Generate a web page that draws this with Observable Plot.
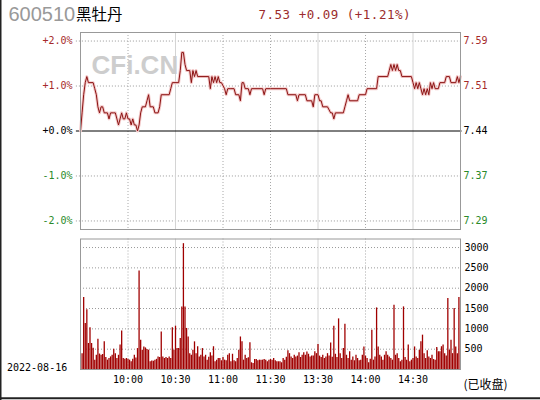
<!DOCTYPE html>
<html>
<head>
<meta charset="utf-8">
<script src="https://cdn.jsdelivr.net/npm/d3@7"></script>
<script src="https://cdn.jsdelivr.net/npm/@observablehq/plot@0.6"></script>
<style>
  html, body { margin: 0; padding: 0; background: #fff; }
  #wrap { position: relative; width: 540px; height: 400px; overflow: hidden; background: #fff; }
  #wrap > svg { position: absolute; left: 0; }
</style>
</head>
<body>
<div id="wrap"></div>
<script>
// ---------- data ----------
const stockCode = "600510";
const stockName = "黑牡丹";
const quoteText = "7.53 +0.09 (+1.21%)";
const dateText = "2022-08-16";
const statusText = "(已收盘)";
const watermarkText = "CFi.CN";
const basePrice = 7.44;

// minute index from 9:30 (0) to 15:00 (240); 11:30 = 120, 13:00 continues at 120
const minutes = [0,1,2,3,4,5,8,9,10,11,12,13,14,15,17,18,19,21,22,23,24,25,26,27,28,29,30,31,32,33,34,35,36,37,38,39,41,42,43,44,46,47,49,50,51,56,57,58,62,63,64,65,66,67,69,70,71,72,73,74,81,82,83,84,85,86,87,88,89,91,92,93,95,97,98,100,101,102,103,104,106,107,108,115,116,117,120,
  130,131,136,137,138,142,143,146,147,148,150,151,152,153,156,158,159,160,161,166,167,168,169,170,175,176,180,181,187,188,194,195,196,197,198,199,200,201,202,203,209,210,211,212,213,214,215,216,217,218,219,220,221,222,223,224,226,227,230,231,233,234,237,238,239,240];
const prices = [7.44,7.47,7.50,7.52,7.53,7.52,7.52,7.51,7.50,7.48,7.47,7.48,7.48,7.47,7.47,7.46,7.47,7.47,7.47,7.46,7.45,7.46,7.47,7.46,7.46,7.47,7.46,7.46,7.45,7.46,7.45,7.45,7.44,7.45,7.47,7.48,7.48,7.49,7.50,7.48,7.48,7.47,7.47,7.48,7.50,7.50,7.51,7.52,7.52,7.54,7.57,7.57,7.55,7.54,7.54,7.52,7.54,7.53,7.54,7.53,7.53,7.51,7.53,7.52,7.53,7.52,7.53,7.52,7.52,7.51,7.50,7.51,7.51,7.51,7.50,7.50,7.49,7.52,7.52,7.51,7.51,7.50,7.51,7.51,7.50,7.51,7.51,
  7.51,7.50,7.50,7.49,7.50,7.50,7.49,7.49,7.48,7.50,7.50,7.49,7.49,7.48,7.48,7.47,7.47,7.46,7.47,7.47,7.48,7.49,7.50,7.49,7.49,7.50,7.50,7.51,7.51,7.53,7.53,7.54,7.55,7.54,7.55,7.54,7.55,7.54,7.54,7.53,7.53,7.52,7.51,7.52,7.51,7.52,7.51,7.50,7.51,7.50,7.51,7.50,7.52,7.51,7.52,7.51,7.51,7.52,7.52,7.53,7.53,7.52,7.52,7.53,7.52,7.53];

// volume per minute, minutes 1..239
const volumes = [390,1770,1130,1470,640,1030,640,520,230,350,745,380,350,370,680,295,230,270,310,350,
  500,390,270,350,600,950,270,250,270,250,230,190,250,350,280,515,2425,720,475,555,
  530,490,475,190,210,200,230,250,310,295,925,310,270,295,270,310,270,1030,475,1065,
  515,515,760,1540,3095,1540,1010,800,390,350,475,680,390,560,310,350,515,310,350,230,
  300,410,330,560,190,230,270,270,215,295,230,215,350,390,190,375,215,190,270,475,
  800,680,230,350,270,290,655,165,150,245,245,215,230,230,230,245,230,190,230,245,
  230,270,215,190,190,190,165,270,230,300,460,390,310,270,350,310,330,410,295,350,
  410,350,430,375,310,330,330,435,390,615,330,295,350,270,310,390,330,650,300,1065,
  375,295,1245,390,270,515,1115,350,270,435,230,310,215,350,270,215,230,350,555,330,
  270,165,250,965,230,310,1515,555,350,310,230,350,435,350,310,270,230,1580,350,390,
  270,190,230,1540,295,230,600,190,230,270,555,310,270,475,680,845,390,270,460,310,
  270,350,245,230,540,435,435,560,600,390,330,1745,475,720,390,1500,555,390,1770];

const pctTicks = [2, 1, 0, -1, -2];
const pctLabels = ["+2.0%", "+1.0%", "+0.0%", "-1.0%", "-2.0%"];
const priceLabels = ["7.59", "7.51", "7.44", "7.37", "7.29"];
const timeTicks = [30, 60, 90, 120, 150, 180, 210];
const timeLabels = ["10:00", "10:30", "11:00", "11:30", "13:30", "14:00", "14:30"];
const volTicks = [500, 1000, 1500, 2000, 2500, 3000];

// ---------- drawing ----------
const RED = "#a52a2a", GREEN = "#2a8a2a";
const signColor = d => d > 0 ? RED : d < 0 ? GREEN : "#000";
const solidTimes = timeTicks.filter((t, i) => i === 1 || i === 4 || i === 6);
const dottedTimes = timeTicks.filter(t => !solidTimes.includes(t));
const MONO = "'DejaVu Sans Mono', monospace";

const priceData = minutes.map((t, i) => ({t, pct: (prices[i] / basePrice - 1) * 100}));
const volData = volumes.map((v, i) => ({t: i + 1, v}));

const topChart = Plot.plot({
  width: 540, height: 240,
  marginLeft: 80, marginRight: 80, marginTop: 32, marginBottom: 11,
  style: {fontFamily: MONO, fontSize: "10px", background: "transparent", overflow: "visible"},
  x: {domain: [0, 240], axis: null},
  y: {domain: [-2.19, 2.19], axis: null},
  color: {type: "identity"},
  marks: [
    Plot.ruleY(pctTicks.filter(d => d !== 0), {x1: -2.6, x2: 240, stroke: "#999", strokeDasharray: "1,2"}),
    Plot.ruleX(dottedTimes, {stroke: "#a8a8a8", strokeDasharray: "1,2"}),
    Plot.ruleX(solidTimes, {stroke: "#d4d4d4"}),
    Plot.text([watermarkText], {frameAnchor: "top-left", dx: 11, dy: 23, lineAnchor: "top", textAnchor: "start",
      fontSize: 26, fontWeight: "bold", fill: "#cdcdcd", fontFamily: "'Liberation Sans', Arial, sans-serif"}),
    Plot.ruleY([0], {x1: -2.6, x2: 241, stroke: "#000"}),
    Plot.line(priceData, {x: "t", y: "pct", stroke: "#f3caca", strokeWidth: 3}),
    Plot.line(priceData, {x: "t", y: "pct", stroke: "#8b1212", strokeWidth: 1}),
    Plot.frame({stroke: "#999"}),
    Plot.text(pctTicks, {y: d => d, text: (d, i) => pctLabels[i], frameAnchor: "left", dx: -8, textAnchor: "end", fill: signColor}),
    Plot.text(pctTicks, {y: d => d, text: (d, i) => priceLabels[i], frameAnchor: "right", dx: 3, textAnchor: "start", fill: signColor})
  ]
});

const volChart = Plot.plot({
  width: 540, height: 170,
  marginLeft: 80, marginRight: 80, marginTop: 8.5, marginBottom: 31,
  style: {fontFamily: MONO, fontSize: "10px", background: "transparent", overflow: "visible"},
  x: {domain: [0, 240], axis: null},
  y: {domain: [0, 3210], axis: null},
  marks: [
    Plot.ruleY(volTicks, {stroke: "#999", strokeDasharray: "1,2"}),
    Plot.ruleX(dottedTimes, {stroke: "#a8a8a8", strokeDasharray: "1,2"}),
    Plot.ruleX(solidTimes, {stroke: "#d4d4d4"}),
    Plot.ruleX(volData, {x: "t", y1: 0, y2: "v", stroke: "#a00000", strokeWidth: 1.3}),
    Plot.frame({stroke: "#999"}),
    Plot.text(volTicks, {y: d => d, text: d => String(d), frameAnchor: "right", dx: 4, textAnchor: "start", fill: "#000"}),
    Plot.text(timeTicks, {x: d => d, text: (d, i) => timeLabels[i], frameAnchor: "bottom", dy: 13, fill: "#000"})
  ]
});

const wrap = document.getElementById("wrap");
topChart.style.top = "0px";
volChart.style.top = "230px";
wrap.appendChild(topChart);
wrap.appendChild(volChart);

// header, footer texts and outer border
const ov = d3.create("svg").attr("width", 540).attr("height", 400)
  .style("position", "absolute").style("left", "0px").style("top", "0px");
ov.append("text").attr("x", 8.5).attr("y", 21.3).text(stockCode)
  .attr("font-family", "'Liberation Sans', Arial, sans-serif").attr("font-size", 20).attr("fill", "#999");
ov.append("text").attr("x", 76).attr("y", 19.6).text(stockName)
  .attr("font-family", "'Noto Sans CJK SC', sans-serif").attr("font-size", 15.5).attr("fill", "#000");
ov.append("text").attr("x", 258.5).attr("y", 19).text(quoteText)
  .attr("font-family", MONO).attr("font-size", 12.5).attr("letter-spacing", 0.5).attr("fill", "#9b2c2c")
  .attr("xml:space", "preserve");
ov.append("text").attr("x", 7).attr("y", 370.6).text(dateText)
  .attr("font-family", MONO).attr("font-size", 10).attr("fill", "#000");
ov.append("text").attr("x", 463.5).attr("y", 388.5).text(statusText)
  .attr("font-family", "'Noto Sans CJK SC', sans-serif").attr("font-size", 12).attr("fill", "#000");
ov.append("line").attr("x1", 0.75).attr("x2", 0.75).attr("y1", 0).attr("y2", 400).attr("stroke", "#222").attr("stroke-width", 1.5);
ov.append("line").attr("x1", 0).attr("x2", 540).attr("y1", 398.3).attr("y2", 398.3).attr("stroke", "#222").attr("stroke-width", 2);
wrap.appendChild(ov.node());
</script>
</body>
</html>
